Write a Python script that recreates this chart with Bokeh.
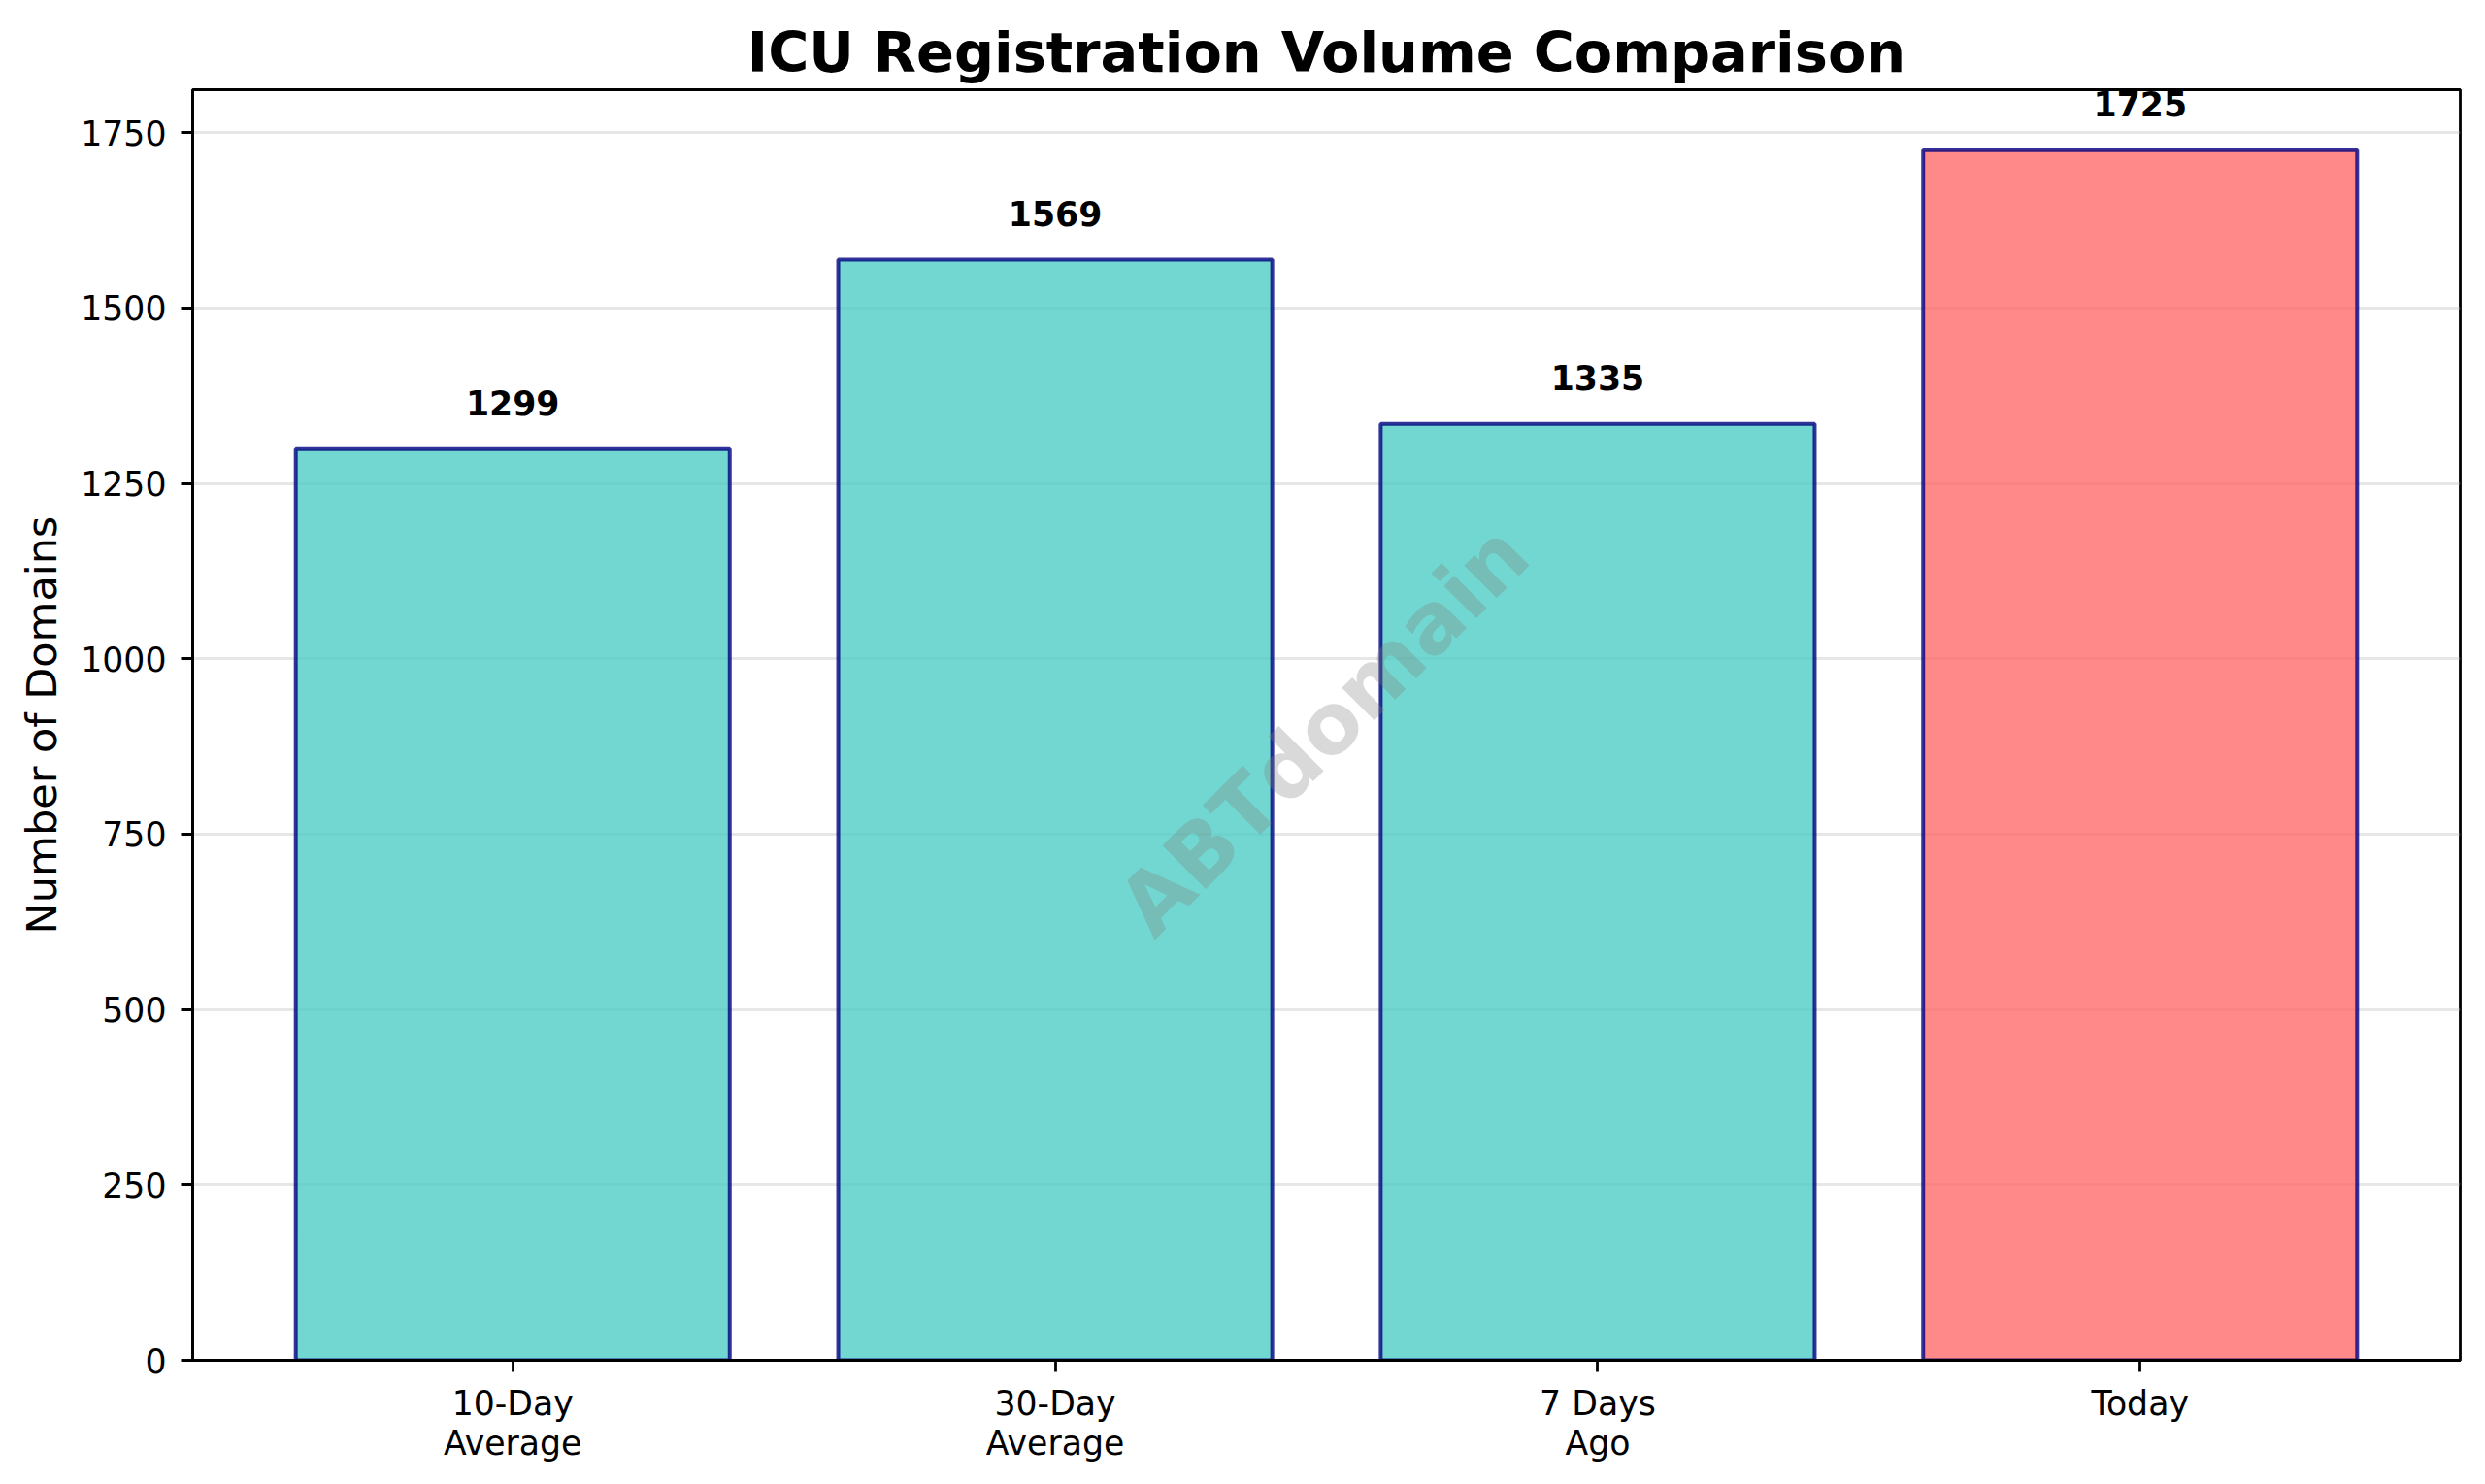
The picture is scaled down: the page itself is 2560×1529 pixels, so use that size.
from bokeh.core.properties import value
from bokeh.embed import file_html
from bokeh.models import ColumnDataSource, FixedTicker, Label, Range1d
from bokeh.plotting import figure
from bokeh.resources import INLINE

categories = ["10-Day\nAverage", "30-Day\nAverage", "7 Days\nAgo", "Today"]
values = [1299, 1569, 1335, 1725]
bar_colors = ["#4ECDC4", "#4ECDC4", "#4ECDC4", "#FF6B6B"]
y_ticks = [0, 250, 500, 750, 1000, 1250, 1500, 1750]
positions = list(range(len(categories)))
FONT = "DejaVu Sans"

source = ColumnDataSource(dict(
    x=positions,
    top=values,
    color=bar_colors,
    label=[str(v) for v in values],
))

x_range = Range1d(-0.59, 3.59)
y_range = Range1d(0, max(values) * 1.05)

p = figure(
    width=2544, height=1513,
    x_range=x_range,
    y_range=y_range,
    output_backend="svg", toolbar_location=None,
    min_border_left=198, min_border_right=10,
    min_border_top=92, min_border_bottom=112,
    background_fill_color="white", border_fill_color="white",
)

p.title.text = "ICU Registration Volume Comparison"
p.title.align = "center"
p.title.text_font = FONT
p.title.text_font_size = "57.4px"
p.title.text_font_style = "bold"
p.title.text_color = "#000000"
p.title.standoff = 10

p.outline_line_color = "black"
p.outline_line_width = 2.8
p.outline_line_alpha = 1

p.xgrid.visible = False
p.ygrid.ticker = FixedTicker(ticks=y_ticks)
p.ygrid.grid_line_color = "#b0b0b0"
p.ygrid.grid_line_alpha = 0.3
p.ygrid.grid_line_width = 2.8

p.xaxis.ticker = FixedTicker(ticks=positions)
p.xaxis.major_label_overrides = {i: c for i, c in zip(positions, categories)}
p.yaxis.ticker = FixedTicker(ticks=y_ticks)
p.yaxis.axis_label = "Number of Domains"
p.yaxis.axis_label_text_font = FONT
p.yaxis.axis_label_text_font_size = "43px"
p.yaxis.axis_label_text_font_style = "normal"
p.yaxis.axis_label_text_color = "#000000"
p.yaxis.axis_label_standoff = 12

for ax in (p.xaxis, p.yaxis):
    ax.axis_line_color = "black"
    ax.axis_line_width = 2.8
    ax.major_tick_line_color = "black"
    ax.major_tick_line_width = 2.8
    ax.major_tick_in = 0
    ax.major_tick_out = 12
    ax.minor_tick_line_color = None
    ax.major_label_standoff = 12
    ax.major_label_text_font = FONT
    ax.major_label_text_font_size = "34.7px"
    ax.major_label_text_color = "#000000"

p.yaxis.major_label_standoff = 15
p.xaxis.major_label_text_line_height = 1.03
p.yaxis.major_label_orientation = "horizontal"

p.vbar(
    x="x", top="top", bottom=0, width=0.8, source=source,
    fill_color="color", fill_alpha=0.8,
    line_color="navy", line_alpha=0.8, line_width=4,
)

p.text(
    x="x", y="top", text="label", source=source,
    text_align="center", text_baseline="alphabetic", y_offset=-48,
    text_font=value(FONT), text_font_size=value("34.7px"), text_font_style="bold",
    text_color="#000000",
)

watermark = Label(
    x=(x_range.start + x_range.end) / 2,
    y=(y_range.start + y_range.end) / 2,
    x_offset=-3,
    y_offset=-5,
    text="ABTdomain", angle=45, angle_units="deg",
    text_align="center", text_baseline="middle",
    text_font=FONT, text_font_size="86.5px", text_font_style="bold",
    text_color="gray", text_alpha=0.3,
)
p.add_layout(watermark)

open("out.html", "w").write(file_html(p, INLINE))
